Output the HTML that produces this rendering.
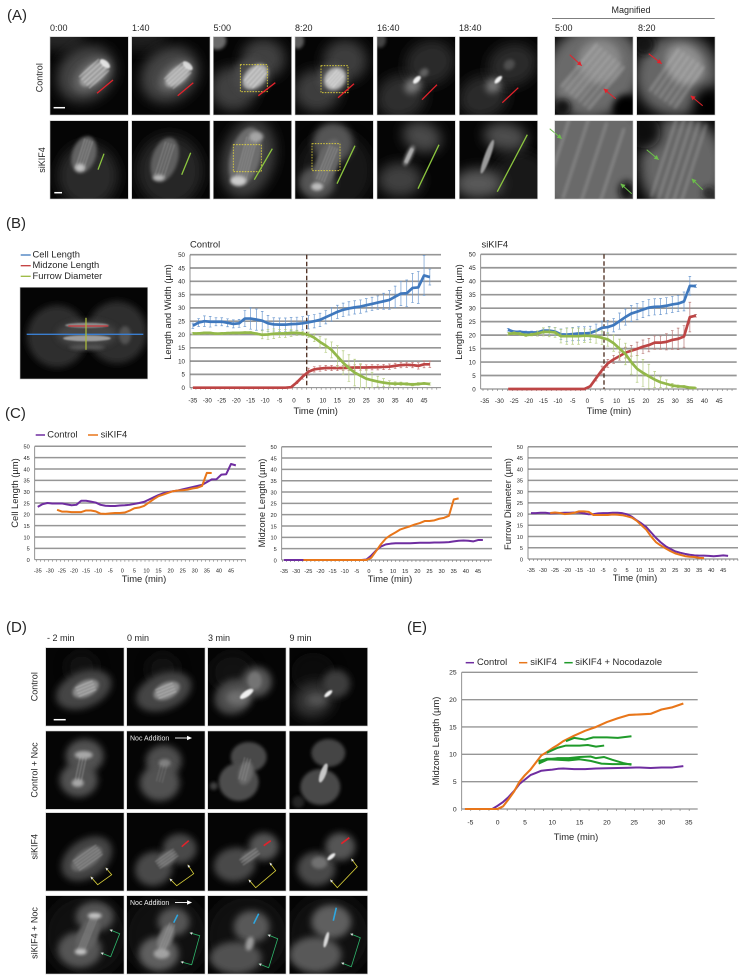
<!DOCTYPE html>
<html lang="en">
<head>
<meta charset="utf-8">
<title>Midzone elongation figure</title>
<style>
html,body{margin:0;padding:0;background:#fff;width:744px;height:980px;overflow:hidden}
svg{display:block}
text{font-family:"Liberation Sans",sans-serif;fill:#262626}
</style>
</head>
<body>
<svg id="fig" xmlns="http://www.w3.org/2000/svg" width="744" height="980" viewBox="0 0 744 980">
<defs>
<filter id="b1" filterUnits="userSpaceOnUse" x="-100" y="-100" width="320" height="320"><feGaussianBlur stdDeviation="0.7"/></filter>
<filter id="b2" filterUnits="userSpaceOnUse" x="-100" y="-100" width="320" height="320"><feGaussianBlur stdDeviation="1.6"/></filter>
<filter id="b3" filterUnits="userSpaceOnUse" x="-100" y="-100" width="320" height="320"><feGaussianBlur stdDeviation="3.4"/></filter>
<filter id="b4" filterUnits="userSpaceOnUse" x="-100" y="-100" width="320" height="320"><feGaussianBlur stdDeviation="6"/></filter>
</defs>
<rect width="744" height="980" fill="#fff"/>

<g font-size="15">
<text x="7" y="20">(A)</text>
<text x="6" y="228">(B)</text>
<text x="5" y="418">(C)</text>
<text x="6" y="632">(D)</text>
<text x="407" y="632">(E)</text>
</g>

<g font-size="9">
<text x="50" y="31">0:00</text>
<text x="132" y="31">1:40</text>
<text x="213.5" y="31">5:00</text>
<text x="295" y="31">8:20</text>
<text x="377" y="31">16:40</text>
<text x="459" y="31">18:40</text>
<text x="555" y="31">5:00</text>
<text x="638" y="31">8:20</text>
<text x="631" y="13" text-anchor="middle">Magnified</text>
<line x1="552" y1="18.3" x2="714.7" y2="18.3" stroke="#333" stroke-width="0.7"/>
<text transform="translate(42.5 77.7) rotate(-90)" text-anchor="middle">Control</text>
<text transform="translate(45 160) rotate(-90)" text-anchor="middle">siKIF4</text>
<text x="47" y="641">- 2 min</text>
<text x="127" y="641">0 min</text>
<text x="208" y="641">3 min</text>
<text x="289.5" y="641">9 min</text>
<text transform="translate(37.5 686.7) rotate(-90)" text-anchor="middle">Control</text>
<text transform="translate(37.5 770) rotate(-90)" text-anchor="middle">Control + Noc</text>
<text transform="translate(37.5 846.7) rotate(-90)" text-anchor="middle">siKIF4</text>
<text transform="translate(37.5 933) rotate(-90)" text-anchor="middle">siKIF4 + Noc</text>
</g>

<g id="images"></g>

<g font-size="7" >
<text x="130" y="740.5" style="fill:#eee">Noc Addition</text>
<text x="130" y="905" style="fill:#eee">Noc Addition</text>
</g>
<g stroke="#fff" stroke-width="0.9" fill="#fff">
<line x1="175" y1="738" x2="189" y2="738"/>
<polygon points="191,738 187.5,736.4 187.5,739.6"/>
<line x1="175" y1="902.5" x2="189" y2="902.5"/>
<polygon points="191,902.5 187.5,900.9 187.5,904.1"/>
</g>

<g font-size="9.4">
<line x1="20.7" y1="255" x2="30.7" y2="255" stroke="#3f78bd" stroke-width="1.3"/>
<text x="32.5" y="257.5">Cell Length</text>
<line x1="20.7" y1="265.7" x2="30.7" y2="265.7" stroke="#c23a3a" stroke-width="1.3"/>
<text x="32.5" y="268.2">Midzone Length</text>
<line x1="20.7" y1="276.3" x2="30.7" y2="276.3" stroke="#9ab83f" stroke-width="1.3"/>
<text x="32.5" y="278.8">Furrow Diameter</text>
<text x="190" y="247.5">Control</text>
<text x="481.5" y="247.5">siKIF4</text>
<text transform="translate(171 312) rotate(-90)" text-anchor="middle">Length and Width (µm)</text>
<text transform="translate(462 312) rotate(-90)" text-anchor="middle">Length and Width (µm)</text>
<text x="315.7" y="414" text-anchor="middle">Time (min)</text>
<text x="609" y="414" text-anchor="middle">Time (min)</text>

<line x1="35.7" y1="435" x2="45" y2="435" stroke="#6f2da0" stroke-width="1.5"/>
<text x="47.3" y="437.5">Control</text>
<line x1="88" y1="435" x2="98" y2="435" stroke="#e8761a" stroke-width="1.5"/>
<text x="100.6" y="437.5">siKIF4</text>
<text transform="translate(18 493) rotate(-90)" text-anchor="middle">Cell Length (µm)</text>
<text transform="translate(265 503) rotate(-90)" text-anchor="middle">Midzone Length (µm)</text>
<text transform="translate(511 504) rotate(-90)" text-anchor="middle">Furrow Diameter (µm)</text>
<text x="144" y="582" text-anchor="middle">Time (min)</text>
<text x="390" y="582" text-anchor="middle">Time (min)</text>
<text x="635" y="581" text-anchor="middle">Time (min)</text>

<line x1="465.7" y1="662.7" x2="474" y2="662.7" stroke="#6f2da0" stroke-width="1.5"/>
<text x="477" y="665">Control</text>
<line x1="519" y1="662.7" x2="527.3" y2="662.7" stroke="#e8761a" stroke-width="1.5"/>
<text x="530.3" y="665">siKIF4</text>
<line x1="564.3" y1="662.7" x2="572.7" y2="662.7" stroke="#1f9a2a" stroke-width="1.5"/>
<text x="575.3" y="665">siKIF4 + Nocodazole</text>
<text transform="translate(439 741) rotate(-90)" text-anchor="middle">Midzone Length (µm)</text>
<text x="576" y="840" text-anchor="middle">Time (min)</text>
</g>
<g id="charts"></g>
</svg>

<script>
/* ---------- chart data ---------- */
const timesControl = [-35,-33,-31,-29,-27,-25,-23,-21,-19,-17,-15,-13,-11,-9,-7,-5,-3,-1,1,3,5,7,9,11,13,15,17,19,21,23,25,27,29,31,33,35,37,39,41,43,45,47];
const controlCell = [23.3,24.5,25,24.8,24.8,24.8,24.4,24,24.2,26,26,25.6,25.2,24.2,23.8,23.7,23.7,23.9,24,24.2,24.6,25,25.5,26.5,27.5,28.5,29.3,29.8,30.2,30.5,31,31.5,32,32.5,33,34.2,35.4,35.5,37.5,37.7,42.2,41.6];
const controlCellErr = [1,1.5,2,2,1.5,1.5,1.5,1.5,1.5,3,4,4,3.5,3,2.5,2.5,2.5,2.5,2.5,2.5,2.5,2.5,2.5,2.5,2.5,2.5,2.5,2.5,2.5,2.5,2.5,2.5,2.5,3,3.5,4,4.5,5,5.5,6,7.5,3];
const controlMid = [0,0,0,0,0,0,0,0,0,0,0,0,0,0,0,0,0,0.2,2,4.2,6,6.9,7.2,7.4,7.4,7.4,7.4,7.5,7.6,7.6,7.6,7.7,7.7,7.8,7.9,8.2,8.5,8.6,8.5,8.2,8.8,8.8];
const controlMidErr = [0,0,0,0,0,0,0,0,0,0,0,0,0,0,0,0,0,0,0.5,1,1.3,1,1,1,1,1,1,1,1,1,1,1,1,1,1,1,1,1,1,1.2,1.3,1.2];
const controlFurrow = [20.4,20.4,20.6,20.6,20.3,20.4,20.5,20.6,20.6,20.7,20.7,20.3,19.9,20,20.3,20.4,20.4,20.6,20.6,20.4,19.9,18.8,17.2,15.8,14.2,11.8,9.4,7.4,5.7,4.5,3.4,2.8,2.3,1.9,1.6,1.5,1.5,1.4,1.2,1.4,1.6,1.4];
const controlFurrowErr = [0.4,0.4,0.4,0.4,0.4,0.4,0.4,0.4,0.4,0.4,0.4,0.4,1.5,1.8,1.8,1.5,1.5,1.3,1,0.8,1,1.5,2,2.5,3,4,4.5,5,5,4.5,3.5,3,2,1.5,1,0.7,0.6,0.5,0.5,0.5,0.4,0.4];

const timesKif = [-27,-25,-23,-21,-19,-17,-15,-13,-11,-9,-7,-5,-3,-1,1,3,5,7,9,11,13,15,17,19,21,23,25,27,29,31,33,35,37];
const kifCell = [22,21.2,21.2,21,21,21,21.7,21.7,21.3,20.3,20.2,20.4,20.6,20.6,20.8,21.6,22.7,23,23.7,25.2,26.7,28,28.7,29.5,30.2,30.5,30.6,30.9,31.4,31.7,32.5,38.3,38.2];
const kifCellErr = [0.5,0.5,0.5,0.5,0.5,0.5,1,1.5,1.5,2,2.5,2.5,2.5,2.5,2.5,2.5,2.5,2.5,2.5,3,3,3,3,3,3,3,3,3,3,3,3.5,3.5,0.5];
const kifMid = [0,0,0,0,0,0,0,0,0,0,0,0,0,0,1,4,7,9.5,11,12.2,13.5,14.2,14.9,15.7,16.3,17.2,17.2,17.5,18.2,18.6,19.5,26.7,27.2];
const kifMidErr = [0,0,0,0,0,0,0,0,0,0,0,0,0,0,0.3,1,1.5,1.5,1.5,1.5,2,2,2.5,2.5,2.5,2.5,2.5,3,3.5,4,4,5.5,0.5];
const kifFurrow = [20.5,20.7,20.5,20,20.2,20.6,21.2,21.2,21,19.6,19.6,19.6,19.6,19.8,19.7,19.5,19,18.4,17,15,13,10,7.5,6,4.7,3.5,2.5,1.9,1.3,1,0.9,0.5,0.4];
const kifFurrowErr = [0.5,0.5,0.5,0.5,0.5,1,1.5,1.8,1.8,2.5,3,3,3,2.5,2.5,2.5,2.5,2.5,3,3.5,4,4.5,5,5,4.5,3,2,1.5,0.8,0.5,0.4,0.3,0.2];

const xTickLabels = [-35,-30,-25,-20,-15,-10,-5,0,5,10,15,20,25,30,35,40,45];
const yTickLabels = [50,45,40,35,30,25,20,15,10,5,0];

const eTimes = [-6,-4,-2,-1,0,1,2,3,4,5,6,7,8,9,10,11,12,14,16,18,20,22,24,26,28,30,32,34];
const eControl = [0,0,0,0,0.6,1.3,2.2,3.3,4.6,5.4,6.2,6.6,7,7.1,7.2,7.35,7.4,7.3,7.3,7.4,7.45,7.5,7.55,7.6,7.5,7.6,7.6,7.85];
const eKif = [0,0,0,0,0,0.5,1.8,3.2,5,6.2,7.2,8.5,9.8,10.4,11.1,11.7,12.4,13.4,14.3,15,15.9,16.6,17.2,17.3,17.4,18.2,18.6,19.3];
const nocTimes1 = [12.5,14,16,17.5,20,22,24.5];
const nocValues1 = [12.4,13,12.7,13.1,13.1,13,13.3];
const nocTimes2 = [9,11,12.5,15,16.5,18,19.5];
const nocValues2 = [10.3,11.2,11.6,11.6,11.7,11.4,11.6];
const nocTimes3 = [7.5,9,11,13,15,17,18,19.5,21,23,24.5];
const nocValues3 = [8.3,9,9.3,9.3,9.5,9.6,9.3,9.5,9,8.4,8.1];
const nocTimes4 = [7.5,9,11,13,15,17,19,21,24.5];
const nocValues4 = [8.8,9.1,9,8.9,9.1,8.8,8.3,8.2,8.2];
const nocTimes5 = [7.5,9,11,13,15];
const nocValues5 = [8.6,9.2,9.2,9.2,9.4];
const eXTickLabels = [-5,0,5,10,15,20,25,30,35];
const eYTickLabels = [25,20,15,10,5,0];

const NS = 'http://www.w3.org/2000/svg';
function mk(tag, attrs, parent, text){
  const n = document.createElementNS(NS, tag);
  for (const k in attrs) n.setAttribute(k, attrs[k]);
  if (text !== undefined) n.textContent = text;
  if (parent) parent.appendChild(n);
  return n;
}

/* ---------- charts ---------- */
function drawChart(cfg){
  const root = document.getElementById('charts');
  const g = mk('g', {}, root);
  
  
  const x = t => cfg.x0 + cfg.k * t;
  const y = v => cfg.bottom - (v / cfg.maxV) * (cfg.bottom - cfg.top);
  cfg.yTicks.forEach(v => {
    if (v !== 0) {
      const grid = mk('line', {x1:cfg.left, x2:cfg.right, y1:y(v), y2:y(v), stroke:'#969696', 'stroke-width':cfg.gridW || 1.7}, g);
      
      
    }
    const lab = mk('text', {x:cfg.left - 5, y:y(v) + 2.3, 'text-anchor':'end', 'font-size':cfg.tickFont}, g, v);
    
    
  });
  const yAxis = mk('line', {x1:cfg.left, x2:cfg.left, y1:cfg.top, y2:cfg.bottom, stroke:'#777', 'stroke-width':0.8}, g);
  
  
  const xAxis = mk('line', {x1:cfg.left, x2:cfg.right, y1:cfg.bottom, y2:cfg.bottom, stroke:'#777', 'stroke-width':0.9}, g);
  
  
  for (let t = cfg.tickFrom; x(t) <= cfg.right; t += cfg.tickEvery) {
    const tick = mk('line', {x1:x(t), x2:x(t), y1:cfg.bottom, y2:cfg.bottom + 2, stroke:'#777', 'stroke-width':0.6}, g);
    
    
  }
  cfg.xTicks.forEach(t => {
    const lab = mk('text', {x:x(t), y:cfg.bottom + cfg.labelDy, 'text-anchor':'middle', 'font-size':cfg.tickFont}, g, t);
    
    
  });
  if (cfg.dash !== undefined) {
    const d = mk('line', {x1:x(cfg.dash), x2:x(cfg.dash), y1:cfg.top, y2:cfg.bottom, stroke:'#4a2a1c', 'stroke-width':1.3, 'stroke-dasharray':'4.5 2.5'}, g);
    
    
  }
  cfg.series.forEach(s => {
    if (s.err) {
      const eg = mk('g', {stroke:s.errColor, 'stroke-width':0.7, fill:'none'}, g);
      
      
      s.t.forEach((t, i) => {
        if (!s.err[i]) return;
        const hi = y(Math.min(s.v[i] + s.err[i], cfg.maxV));
        const lo = y(Math.max(s.v[i] - s.err[i], 0));
        const bar = mk('path', {d:`M${x(t)} ${lo}V${hi}M${x(t)-1.3} ${hi}h2.6M${x(t)-1.3} ${lo}h2.6`}, eg);
        
        
      });
    }
    const pts = s.t.map((t, i) => x(t).toFixed(2) + ',' + y(s.v[i]).toFixed(2)).join(' ');
    const line = mk('polyline', {points:pts, fill:'none', stroke:s.color, 'stroke-width':s.w, 'stroke-linejoin':'round'}, g);
    
    
  });
}
const BLUE='#3f78bd', RED='#bd4545', GRN='#93b84a', PUR='#6f2da0', ORG='#e8761a', NOC='#1f9a2a';
const tickStep = 5/3;
drawChart({name:'chart-b-control', left:190, right:441, top:254.7, bottom:387.7, maxV:50, x0:294, k:2.89, yTicks:yTickLabels, xTicks:xTickLabels, tickFont:6.2, labelDy:15, tickFrom:-35.6, tickEvery:tickStep, dash:4.4, series:[
  {name:'line-midzone-length', t:timesControl, v:controlMid, err:controlMidErr, errColor:'#c47a78', color:RED, w:2.7},
  {name:'line-cell-length', t:timesControl, v:controlCell, err:controlCellErr, errColor:'#6f9bd0', color:BLUE, w:2.7},
  {name:'line-furrow-diameter', t:timesControl, v:controlFurrow, err:controlFurrowErr, errColor:'#b4cc80', color:GRN, w:2.7}
]});
drawChart({name:'chart-b-sikif4', left:480.7, right:736.7, top:254.3, bottom:389, maxV:50, x0:587.3, k:2.93, yTicks:yTickLabels, xTicks:xTickLabels, tickFont:6.2, labelDy:14, tickFrom:-35.6, tickEvery:tickStep, dash:5.7, series:[
  {name:'line-midzone-length', t:timesKif, v:kifMid, err:kifMidErr, errColor:'#b87a78', color:RED, w:2.7},
  {name:'line-cell-length', t:timesKif, v:kifCell, err:kifCellErr, errColor:'#6f9bd0', color:BLUE, w:2.7},
  {name:'line-furrow-diameter', t:timesKif, v:kifFurrow, err:kifFurrowErr, errColor:'#b4cc80', color:GRN, w:2.7}
]});
drawChart({name:'chart-c-cell-length', left:34.7, right:245.7, top:446.3, bottom:559.7, maxV:50, x0:122.3, k:2.416, yTicks:yTickLabels, xTicks:xTickLabels, tickFont:5.6, labelDy:13, tickFrom:-35.6, tickEvery:tickStep, gridW:1.5, series:[
  {name:'line-control', t:timesControl, v:controlCell, color:PUR, w:2},
  {name:'line-sikif4', t:timesKif, v:kifCell, color:ORG, w:2}
]});
drawChart({name:'chart-c-midzone-length', left:281.7, right:492, top:446.7, bottom:560, maxV:50, x0:368.9, k:2.425, yTicks:yTickLabels, xTicks:xTickLabels, tickFont:5.6, labelDy:13, tickFrom:-35.6, tickEvery:tickStep, gridW:1.5, series:[
  {name:'line-control', t:timesControl, v:controlMid, color:PUR, w:2},
  {name:'line-sikif4', t:timesKif, v:kifMid, color:ORG, w:2}
]});
drawChart({name:'chart-c-furrow-diameter', left:528, right:738, top:446.7, bottom:559, maxV:50, x0:615.1, k:2.404, yTicks:yTickLabels, xTicks:xTickLabels, tickFont:5.6, labelDy:13, tickFrom:-35.6, tickEvery:tickStep, gridW:1.5, series:[
  {name:'line-control', t:timesControl, v:controlFurrow, color:PUR, w:2},
  {name:'line-sikif4', t:timesKif, v:kifFurrow, color:ORG, w:2}
]});
drawChart({name:'chart-e-midzone-length', left:461.7, right:697.7, top:672.3, bottom:809, maxV:25, x0:497.7, k:5.46, yTicks:eYTickLabels, xTicks:eXTickLabels, tickFont:6.8, labelDy:15.5, tickFrom:-6.6, tickEvery:tickStep, gridW:1.4, series:[
  {name:'line-control', t:eTimes, v:eControl, color:PUR, w:2},
  {name:'line-sikif4', t:eTimes, v:eKif, color:ORG, w:2.1},
  {name:'line-nocodazole-1', t:nocTimes1, v:nocValues1, color:NOC, w:2},
  {name:'line-nocodazole-2', t:nocTimes2, v:nocValues2, color:NOC, w:2},
  {name:'line-nocodazole-3', t:nocTimes3, v:nocValues3, color:NOC, w:2},
  {name:'line-nocodazole-4', t:nocTimes4, v:nocValues4, color:NOC, w:2},
  {name:'line-nocodazole-5', t:nocTimes5, v:nocValues5, color:NOC, w:2}
]});

/* ---------- microscopy panels ---------- */
const grey = v => { const c = Math.round(v); return `rgb(${c},${c},${c})`; };
function panel(name, px, py, spec, w, h){
  w = w || 78.3; h = h || 78.3;
  const root = document.getElementById('images');
  const group = mk('g', {}, root);
  
  
  const inner = mk('svg', {x:px, y:py, width:w, height:h, viewBox:`0 0 ${w} ${h}`}, group);
  
  
  const bg = mk('rect', {width:w, height:h, fill:'#050505'}, inner);
  
  
  (spec.e || []).forEach(b => {
    const shade = (b[2] > 15 || b[3] > 15) ? b[5] * 0.85 : b[5];
    const el = mk('ellipse', {cx:0, cy:0, rx:b[2], ry:b[3], fill:grey(shade), opacity:b[6], transform:`translate(${b[0]} ${b[1]}) rotate(${b[4]})`, filter:`url(#b${b[7]})`}, inner);
    
    
  });
  (spec.f || []).forEach(f => {
    const long = f[2] > 45;
    const fg = mk('g', {transform:`translate(${f[0]} ${f[1]}) rotate(${f[4]})`, stroke:grey(f[6]), opacity:f[7] * (long ? 0.6 : 0.75), 'stroke-width':long ? 1.9 : 1, 'stroke-linecap':'round', filter:long ? 'url(#b2)' : 'url(#b1)'}, inner);
    
    
    const n = f[5];
    for (let i = 0; i < n; i++) {
      const off = n > 1 ? -f[3] / 2 + f[3] * i / (n - 1) : 0;
      const fib = mk('line', {x1:-f[2] / 2, x2:f[2] / 2, y1:off, y2:off}, fg);
      
      
    }
  });
  const ag = mk('g', {transform:`translate(${px} ${py})`}, group);
  
  
  (spec.a || []).forEach(a => drawAnn(ag, a));
  const frame = mk('rect', {x:px, y:py, width:w, height:h, fill:'none', stroke:'#c8c8c8', 'stroke-width':0.6}, group);
  
  
}
function head(g, x1, y1, x2, y2, color, size){
  const ang = Math.atan2(y2 - y1, x2 - x1);
  const pts = [[x2, y2],
    [x2 - size * Math.cos(ang - 0.5), y2 - size * Math.sin(ang - 0.5)],
    [x2 - size * Math.cos(ang + 0.5), y2 - size * Math.sin(ang + 0.5)]];
  const tri = mk('polygon', {points:pts.map(p => p.join(',')).join(' '), fill:color}, g);
  
  
}
const ANN = {r:'#e3222b', g:'#8cc63f', b:'#2ea7e0'};
function drawAnn(g, a){
  const t = a[0];
  if (t === 'r' || t === 'g' || t === 'b') {
    const l = mk('line', {x1:a[1], y1:a[2], x2:a[3], y2:a[4], stroke:ANN[t], 'stroke-width':a[5] || 1.3}, g);
    
    
  } else if (t === 'box') {
    const r = mk('rect', {x:a[1], y:a[2], width:a[3] - a[1], height:a[4] - a[2], fill:'none', stroke:'#e6d83c', 'stroke-width':0.8, 'stroke-dasharray':'1.6 1.2'}, g);
    
    
  } else if (t === 'ra' || t === 'ga') {
    const c = t === 'ra' ? '#e3222b' : '#6cbf4a';
    const l = mk('line', {x1:a[1], y1:a[2], x2:a[3], y2:a[4], stroke:c, 'stroke-width':1}, g);
    
    
    head(g, a[1], a[2], a[3], a[4], c, 5);
  } else if (t === 'yb' || t === 'gb') {
    const c = t === 'yb' ? '#d8cf3a' : '#2fb56b';
    const p = mk('polyline', {points:`${a[1]},${a[2]} ${a[3]},${a[4]} ${a[5]},${a[6]} ${a[7]},${a[8]}`, fill:'none', stroke:c, 'stroke-width':0.8}, g);
    
    
    head(g, a[3], a[4], a[1], a[2], '#ddd', 3);
    head(g, a[5], a[6], a[7], a[8], '#ddd', 3);
  } else if (t === 'scale') {
    const l = mk('line', {x1:a[1], y1:a[2], x2:a[3], y2:a[2], stroke:'#fff', 'stroke-width':1.5}, g);
    
    
  }
}

const colsA = [50,131.7,213.3,295,377,459.3,554.7,636.7];
const rowsA = [36.7,120.7];
const colsD = [45.7,126.7,207.7,289.3];
const rowsD = [647.7,731,812.7,895.7];

const specsA = [
 {e:[[10,0,24,14,0,70,.6,4],[36,37,31,26,-40,80,1,4],[42,38,22,14,-40,120,.9,3],[44,37,17,9,-40,190,.9,2],[55,27,6,3,40,235,.9,1]],f:[[44,37,26,15,-42,5,235,.8]],a:[['r',47,56.6,63,43.3],['scale',3.6,71,15,0]]},
 {e:[[10,0,24,14,0,60,.6,4],[38,38,31,26,-40,80,1,4],[44,39,20,12,-40,125,.9,3],[46,39,15,8,-40,180,.9,2],[56,29,6,3,40,225,.9,1]],f:[[46,39,24,13,-42,5,225,.8]],a:[['r',46,59,61.6,46]]},
 {e:[[4,4,9,9,0,150,.7,2],[20,52,23,22,0,75,1,4],[50,22,22,20,0,75,1,4],[38,40,18,18,-40,85,1,3],[42,40,15,10,-45,185,.95,2]],f:[[42,40,20,11,-48,4,235,.8]],a:[['box',27,28,54,55],['r',45,59,62,46]]},
 {e:[[3,4,6,8,0,130,.7,2],[22,54,23,21,0,70,1,4],[50,24,22,21,0,70,1,4],[38,42,14,15,-40,80,1,3],[40,42,12,10,-50,195,.95,2]],f:[[40,42,15,8,-48,4,240,.8]],a:[['box',26,29,53,56],['r',43,61,59,47]]},
 {e:[[24,60,25,22,-20,55,1,4],[53,26,25,22,-20,50,1,4],[36,49,9,7,-40,130,.9,3],[40,43,5,2.5,-45,240,1,1],[47,36,5,4,-40,120,.7,2],[3,3,6,8,0,110,.6,2]],a:[['r',45,63,60,48]]},
 {e:[[24,60,25,21,-20,50,1,4],[53,28,25,21,-20,50,1,4],[34,49,8,7,-40,125,.9,3],[39,43,5,2.2,-45,240,1,1],[50,28,6,5,-40,95,.7,2]],a:[['r',43,66,59,51]]}
];
const specsB = [
 {e:[[38,55,30,32,0,48,1,4],[34,34,12,19,18,125,.9,2],[30,47,5,4,0,220,.8,2]],f:[[34,34,30,8,-72,4,190,.7]],a:[['g',48,49,54,33],['scale',4.3,72,12,0]]},
 {e:[[38,50,33,36,0,45,1,4],[33,39,13,23,18,120,.9,2],[27,57,6,3,0,210,.8,2]],f:[[33,39,34,9,-72,4,180,.6]],a:[['g',50,54,59,32]]},
 {e:[[35,38,26,40,15,75,1,4],[32,36,15,30,15,130,.95,2],[25,60,8,5,0,215,.9,2],[43,16,7,5,0,180,.8,2]],f:[[33,38,42,10,-75,5,190,.6]],a:[['box',20,24,48,51],['g',41,59,59,28]]},
 {e:[[40,50,38,40,0,35,.8,4],[38,22,20,20,0,100,1,3],[22,62,18,16,0,100,1,3],[32,43,11,26,20,120,1,2],[22,66,6,4,0,200,.9,2]],f:[[32,43,36,8,-68,4,195,.6]],a:[['box',17,23,45,50],['g',42,63,60,25]]},
 {e:[[45,16,20,15,20,85,1,4],[23,59,22,17,0,75,1,4],[32,35,3,11,25,170,.9,2]],f:[[32,35,15,2,-65,2,230,.9]],a:[['g',41,68,62,24]]},
 {e:[[60,60,30,30,0,40,.7,4],[46,16,22,14,10,90,1,4],[19,63,24,15,0,105,1,4],[28,36,3,18,20,190,.95,1]],a:[['g',38,71,68,14]]}
];
const specsM = [
 {e:[[39,35,50,45,-40,125,1,4],[45,25,22,22,-40,170,.8,3],[20,50,20,10,-40,150,.7,3],[72,72,14,14,0,0,1,3],[8,70,8,8,0,10,.9,3]],f:[[38,40,55,35,-50,7,225,.7]],a:[['ra',15,18,27,29],['ra',61,62,49,52]]},
 {e:[[40,38,42,40,-40,120,1,4],[48,28,18,22,-40,180,.8,3],[8,8,10,10,0,20,.9,3],[72,70,16,20,0,5,1,4]],f:[[40,42,50,30,-55,6,225,.7]],a:[['ra',12,17,25,27],['ra',66,69,54,59]]},
 {e:[[35,35,62,62,0,125,1,4],[72,70,8,10,0,10,.9,3]],f:[[30,40,85,55,-72,4,205,.7]],a:[['ga',-5,8,7,18],['ga',77,73,66,63]]},
 {e:[[45,45,42,50,0,120,1,4],[8,12,16,16,0,10,1,4],[72,72,6,6,0,20,.8,3]],f:[[42,40,85,30,-72,5,205,.7]],a:[['ga',10,29,22,39],['ga',66,69,55,58]]}
];
const specsD = [
 [{e:[[36,20,16,16,0,22,.8,4],[38,42,29,18,-22,80,1,3],[40,41,14,8,-25,150,.9,2]],f:[[40,41,18,9,-22,4,220,.7]],a:[['scale',8,72,20,0]]},
  {e:[[36,22,16,16,0,22,.8,4],[37,44,29,18,-22,80,1,3],[40,43,14,8,-25,150,.9,2]],f:[[39,43,18,9,-22,4,215,.7]]},
  {e:[[25,25,22,20,0,22,.8,4],[26,49,20,17,-30,85,1,3],[49,34,15,15,0,85,1,3],[30,50,12,8,0,135,.6,3],[39,46,8,3,-35,240,1,1],[47,33,7,9,0,130,.7,2]]},
  {e:[[24,25,22,20,0,15,.8,4],[24,52,20,17,-20,65,1,4],[47,36,14,14,0,60,1,3],[28,52,10,6,0,110,.5,3],[39,46,5,2,-40,240,1,1]]}],
 [{e:[[39,25,19,17,0,95,1,3],[33,49,19,17,0,95,1,3],[38,24,9,4,0,190,.8,2],[32,52,6,4,0,190,.8,2]],f:[[35,38,24,6,-78,3,200,.6]]},
  {e:[[37,30,18,16,0,90,1,3],[33,52,20,18,0,95,1,3],[38,32,6,4,0,150,.7,2]],f:[[35,42,18,6,-75,3,150,.5]]},
  {e:[[41,26,18,15,0,85,1,2],[31,51,20,19,0,90,1,2],[38,42,7,12,15,120,.7,2],[6,55,4,4,0,90,.7,2]],f:[[37,38,22,6,-75,3,170,.6]]},
  {e:[[39,22,17,14,0,80,1,2],[31,56,20,18,0,85,1,2],[34,42,3,10,20,215,.9,1],[9,71,6,6,0,50,.7,2]]}],
 [{e:[[41,46,28,19,-35,80,1,3],[41,46,18,9,-35,130,.9,2]],f:[[42,45,28,11,-35,5,190,.7]],a:[['yb',45,64,52,72,66,62,60,55]]},
  {e:[[27,56,19,17,-20,85,1,3],[53,36,17,15,0,85,1,3],[40,46,10,7,-35,110,.8,2]],f:[[40,46,22,8,-35,4,180,.7]],a:[['yb',43,66,50,73,67,61,61,52],['r',55,34,62,28,1.6]]},
  {e:[[27,52,21,17,-10,85,1,3],[56,34,15,14,0,85,1,3],[42,43,9,5,-30,110,.8,2]],f:[[42,44,20,6,-35,3,190,.7]],a:[['yb',41,67,48,75,68,58,62,50],['r',56,33,63,28,1.6]]},
  {e:[[27,56,19,17,0,85,1,3],[51,34,15,14,0,85,1,3],[30,50,8,6,0,130,.7,2],[42,44,5,2,-40,235,1,1]],a:[['yb',41,67,48,75,68,54,62,46],['r',52,31,60,25,1.6]]}],
 [{e:[[40,40,42,42,0,25,.7,4],[49,21,19,15,0,100,1,3],[34,54,22,18,0,100,1,3],[42,40,10,20,25,115,.9,2],[49,20,7,3,0,210,.9,2],[35,56,6,3,0,210,.9,2]],f:[[42,38,38,6,-68,4,180,.6]],a:[['gb',64,34,74,38,65,61,55,57]]},
  {e:[[40,40,42,42,0,25,.7,4],[47,26,16,14,0,100,1,3],[32,58,20,17,0,110,1,3],[39,42,7,14,25,130,.9,2],[35,58,8,5,0,180,.8,2]],f:[[40,42,30,5,-68,3,170,.6]],a:[['gb',63,37,73,40,65,69,54,66],['b',47,27,51,19,1.6]]},
  {e:[[40,40,42,42,0,25,.7,4],[44,31,18,16,0,105,1,3],[28,62,26,16,0,95,1,3],[42,48,4,7,15,165,.9,2]],a:[['gb',60,39,70,43,61,72,51,68],['b',46,28,51,18,1.6]]},
  {e:[[40,40,42,42,0,25,.7,4],[42,26,20,17,0,110,1,3],[26,59,26,18,0,105,1,3],[37,44,2,8,15,225,.95,1]],a:[['gb',61,38,71,42,62,71,52,67],['b',44,25,47,12,1.6]]}]
];
const timesA = ['0-00','1-40','5-00','8-20','16-40','18-40'];
specsA.forEach((s, i) => panel('control-frame-' + timesA[i], colsA[i], rowsA[0], s));
specsB.forEach((s, i) => panel('sikif4-frame-' + timesA[i], colsA[i], rowsA[1], s));
panel('magnified-control-5-00', colsA[6], rowsA[0], specsM[0]);
panel('magnified-control-8-20', colsA[7], rowsA[0], specsM[1]);
panel('magnified-sikif4-5-00', colsA[6], rowsA[1], specsM[2]);
panel('magnified-sikif4-8-20', colsA[7], rowsA[1], specsM[3]);
const rowNamesD = ['control','control-noc','sikif4','sikif4-noc'];
const colNamesD = ['minus-2','0','3','9'];
specsD.forEach((row, r) => row.forEach((s, c) => panel('d-' + rowNamesD[r] + '-' + colNamesD[c] + '-min', colsD[c], rowsD[r], s)));
panel('measurement-schematic', 20, 287.3, {
  e:[[37,49,30,31,0,55,1,3],[97,45,30,31,0,55,1,3],[67,47,30,13,0,85,.9,3],[67,51,24,3,0,190,.95,1],[67,38,22,2.5,0,170,.95,1],[67,60,18,2.5,0,110,.8,2],[105,48,6,9,0,100,.7,2]],
  a:[]
}, 127.7, 91.7);
const schematic = document.getElementById('images');
const schemG = mk('g', {transform:'translate(20 287.3)'}, schematic);


const lineCell = mk('line', {x1:6.7, y1:47, x2:123.3, y2:47, stroke:'#3a7ed0', 'stroke-width':1.3}, schemG);


const lineMid = mk('line', {x1:48.3, y1:38.7, x2:88.3, y2:38.7, stroke:'#c9353a', 'stroke-width':1.3}, schemG);


const lineFur = mk('line', {x1:66, y1:30.5, x2:66, y2:62.5, stroke:'#a8b83a', 'stroke-width':1.3}, schemG);


</script>
</body>
</html>
